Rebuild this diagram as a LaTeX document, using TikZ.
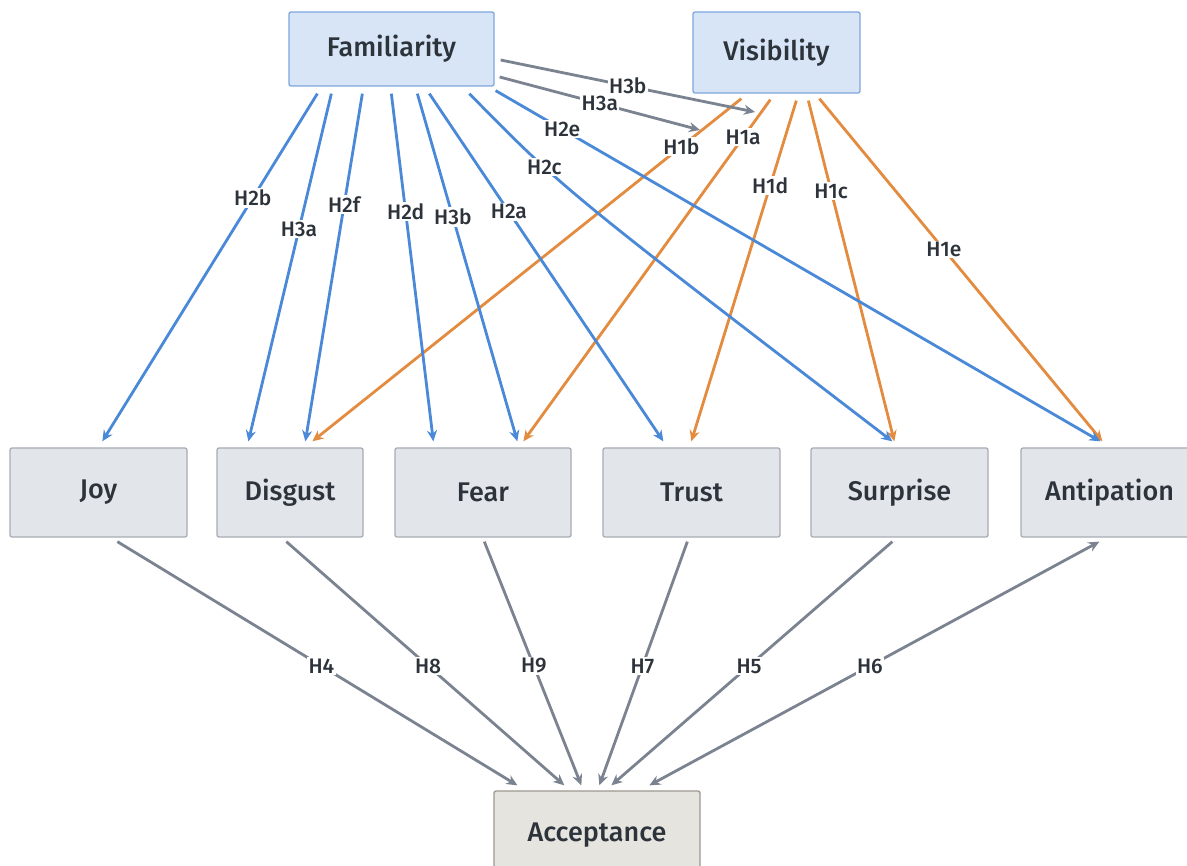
\documentclass[tikz,border=0pt]{standalone}
\usepackage{fontspec}
\setmainfont{Fira Sans Medium}
\usetikzlibrary{arrows.meta,calc}
\definecolor{cblue}{HTML}{4A88D8}
\definecolor{corange}{HTML}{E38B3E}
\definecolor{cgray}{HTML}{7B8391}
\definecolor{topfill}{HTML}{D7E5F6}
\definecolor{topdraw}{HTML}{7FA7DD}
\definecolor{emofill}{HTML}{E2E5EA}
\definecolor{emodraw}{HTML}{A7ACB4}
\definecolor{accfill}{HTML}{E6E4DF}
\definecolor{accdraw}{HTML}{9C9890}
\definecolor{txt}{HTML}{2D333B}
\begin{document}
\begin{tikzpicture}[x=1pt,y=-1pt,
  boxbase/.style={rounded corners=2pt, line width=1.3pt, inner sep=0pt, text=txt,
    font=\fontsize{27}{31}\selectfont},
  topbox/.style={boxbase, draw=topdraw, fill=topfill},
  emobox/.style={boxbase, draw=emodraw, fill=emofill, minimum height=89, minimum width=177},
  accbox/.style={boxbase, draw=accdraw, fill=accfill, minimum height=89, minimum width=206},
  conn/.style={line width=2.8pt, -{Stealth[length=11pt,width=10pt]}},
  barr/.style={conn, draw=cblue},
  oarr/.style={conn, draw=corange},
  garr/.style={conn, draw=cgray},
  lbl/.style={fill=white, inner sep=1.5pt, text=txt, font=\fontsize{21}{24}\selectfont}
]
\useasboundingbox[fill=white] (0,0) rectangle (1187,866);

% nodes
\node[topbox, minimum width=205, minimum height=74] (fam) at (391.5,49) {Familiarity};
\node[topbox, minimum width=167, minimum height=81] (vis) at (776.5,52.5) {Visibility};
\node[emobox] (joy) at (98.5,492.5) {Joy};
\node[emobox, minimum width=146] (dis) at (290,492.5) {Disgust};
\node[emobox, minimum width=176] (fear) at (483,492.5) {Fear};
\node[emobox] (trust) at (691.5,492.5) {Trust};
\node[emobox] (surp) at (899.5,492.5) {Surprise};
\node[emobox] (ant) at (1109.5,492.5) {Antipation};
\node[accbox] (acc) at (597,835.5) {Acceptance};

% free ends of the moderation arrows
\coordinate (m1b) at (700,130);
\coordinate (m1a) at (755,112);

% Visibility -> emotions (orange)
\draw[oarr] ($(vis.south west)+(49,5)$) -- node[lbl,pos=0.14]{H1b} ($(dis.north west)+(96,-6)$);
\draw[oarr] ($(vis.south west)+(78,6)$) -- node[lbl,pos=0.11]{H1a} ($(fear.north west)+(129,-6)$);
\draw[oarr] ($(vis.south west)+(104,7)$) -- node[lbl,pos=0.25]{H1d} ($(trust.north west)+(89,-6)$);
\draw[oarr] ($(vis.south west)+(116,7)$) -- node[lbl,pos=0.265]{H1c} ($(surp.north west)+(84,-6)$);
\draw[oarr] ($(vis.south west)+(127,5)$) -- node[lbl,pos=0.44]{H1e} ($(ant.north west)+(82,-6)$);

% Familiarity -> emotions (blue)
\draw[barr] ($(fam.south west)+(29,7)$) -- node[lbl,pos=0.3]{H2b} ($(joy.north west)+(93,-6)$);
\draw[barr] ($(fam.south west)+(43,7)$) -- node[lbl,pos=0.39]{H3a} ($(dis.north west)+(32,-6)$);
\draw[barr] ($(fam.south west)+(74,7)$) -- node[lbl,pos=0.32]{H2f} ($(dis.north west)+(89,-6)$);
\draw[barr] ($(fam.south west)+(103,7)$) -- node[lbl,pos=0.34]{H2d} ($(fear.north west)+(39,-6)$);
\draw[barr] ($(fam.south west)+(129,7)$) -- node[lbl,pos=0.355]{H3b} ($(fear.north west)+(123,-6)$);
\draw[barr] ($(fam.south west)+(141,7)$) -- node[lbl,pos=0.34]{H2a} ($(trust.north west)+(61,-6)$);
\draw[barr] ($(fam.south west)+(181,7)$) .. controls (563,189) .. node[lbl,pos=0.32]{H2c} ($(surp.north west)+(82,-6)$);
\draw[barr] ($(fam.south east)+(1,4)$) -- node[lbl,pos=0.11]{H2e} ($(ant.north west)+(80,-6)$);

% moderation (gray)
\draw[garr] ($(fam.east)+(6,11)$) -- node[lbl,pos=0.5]{H3b} (m1a);
\draw[garr] ($(fam.east)+(5,28)$) -- node[lbl,pos=0.5]{H3a} (m1b);

% emotions -> Acceptance (gray)
\draw[garr] ($(joy.south west)+(108,4)$) -- node[lbl,pos=0.51]{H4} ($(acc.north west)+(24,-5)$);
\draw[garr] ($(dis.south west)+(70,4)$) -- node[lbl,pos=0.51]{H8} ($(acc.north west)+(71,-5)$);
\draw[garr] ($(fear.south west)+(90,4)$) -- node[lbl,pos=0.51]{H9} ($(acc.north west)+(88,-5)$);
\draw[garr] ($(trust.south west)+(85,4)$) -- node[lbl,pos=0.51]{H7} ($(acc.north west)+(106,-5)$);
\draw[garr] ($(surp.south west)+(82,4)$) -- node[lbl,pos=0.51]{H5} ($(acc.north west)+(118,-5)$);
\draw[garr, {Stealth[length=11pt,width=10pt]}-{Stealth[length=11pt,width=10pt]}] ($(ant.south west)+(79,4)$) -- node[lbl,pos=0.51]{H6} ($(acc.north west)+(156,-5)$);
\end{tikzpicture}
\end{document}
